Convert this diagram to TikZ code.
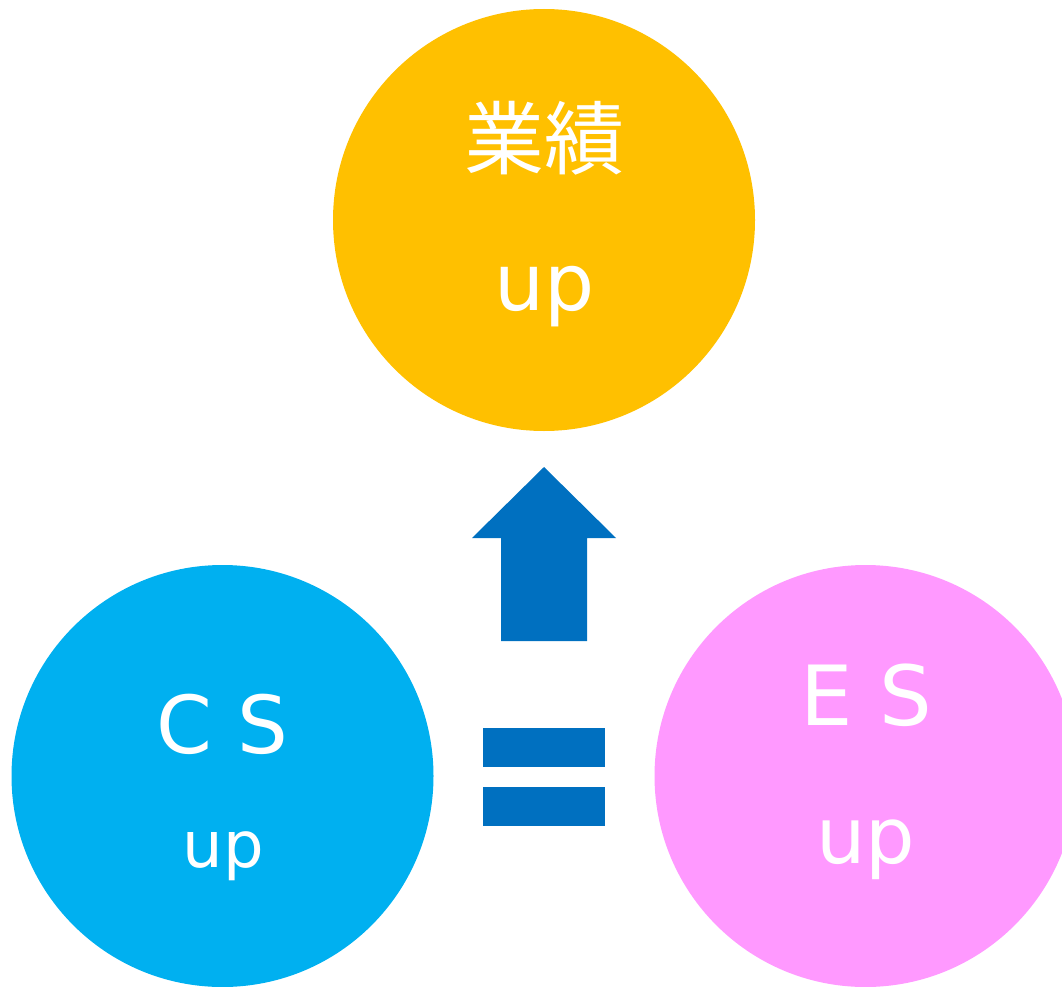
\documentclass[tikz,border=0pt]{standalone}
\usepackage{fontspec}
\setmainfont{DejaVu Sans}
\newfontfamily\cjk{Noto Sans CJK JP}
\definecolor{cgold}{HTML}{FFC000}
\definecolor{ccyan}{HTML}{00B0F0}
\definecolor{cpink}{HTML}{FF99FF}
\definecolor{cblue}{HTML}{0070C0}
\tikzset{
  ball/.style={circle, minimum size=422pt, inner sep=0pt, draw=none},
  label/.style={text=white, inner sep=0pt, anchor=base},
  mark shape/.style={fill=cblue, draw=none}
}
\begin{document}
\begin{tikzpicture}[x=1pt, y=-1pt]
\useasboundingbox (0,0) rectangle (1062,987);
\clip (0,0) rectangle (1062,987);
\node[ball, fill=cgold] (top) at (544,220) {};
\node[ball, fill=ccyan] (cs) at (222.5,776) {};
\node[ball, fill=cpink] (es) at (865.5,776) {};
% texts
\node[label, font=\cjk\fontsize{80}{96}\selectfont] (t1) at (544.5,169) {業績};
\node[label, font=\fontsize{79}{96}\selectfont] (t2) at (544.5,310) {up};
\node[label, font=\fontsize{80}{96}\selectfont] (c1) at (222.5,753) {C S};
\node[label, font=\fontsize{64}{80}\selectfont] (c2) at (223.5,867) {up};
\node[label, font=\fontsize{83}{96}\selectfont] (e1) at (866.5,725) {E S};
\node[label, font=\fontsize{78}{96}\selectfont] (e2) at (866,863) {up};
% arrow
\fill[mark shape] (544,467) -- (616,538) -- (587,538) -- (587,641) -- (501,641) -- (501,538) -- (472,538) -- cycle;
% equals
\fill[mark shape] (483,728) rectangle (605,767);
\fill[mark shape] (483,787) rectangle (605,826);
\end{tikzpicture}
\end{document}
